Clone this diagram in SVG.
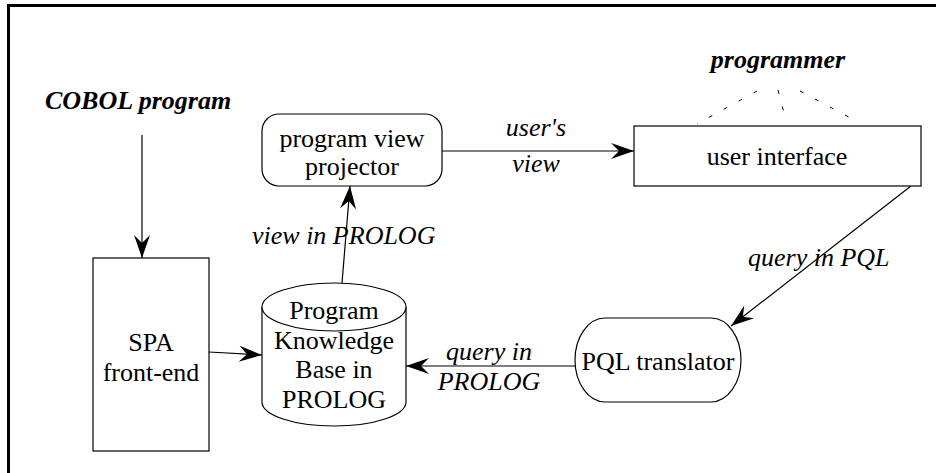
<svg xmlns="http://www.w3.org/2000/svg" width="936" height="473" viewBox="0 0 936 473">
<defs>
<style>
.t{font-family:"Liberation Serif",Times,serif;font-size:26px;fill:#000}
.i{font-style:italic}
.b{font-weight:bold;font-style:italic}
.m{text-anchor:middle}
.s{fill:#fff;stroke:#000;stroke-width:1.2}
.c{fill:none;stroke:#000;stroke-width:1.2}
.d{fill:none;stroke:#000;stroke-width:1;stroke-dasharray:4 13}
</style>
<marker id="ah" markerUnits="userSpaceOnUse" markerWidth="30" markerHeight="20" viewBox="-24 -10 26 20" refX="0" refY="0" orient="auto">
<path d="M0,0 L-23,-8 L-15,0 L-23,8 Z" fill="#000"/>
</marker>
</defs>
<rect width="936" height="473" fill="#fff"/>
<path d="M8.5,473 V5.5 H936" fill="none" stroke="#000" stroke-width="3"/>

<g id="connectors">
<line class="c" x1="142" y1="135" x2="142" y2="258" marker-end="url(#ah)"/>
<line class="c" x1="209" y1="352" x2="262" y2="355" marker-end="url(#ah)"/>
<line class="c" x1="342" y1="283" x2="350" y2="186" marker-end="url(#ah)"/>
<line class="c" x1="442" y1="151" x2="634" y2="151" marker-end="url(#ah)"/>
<line class="c" x1="911" y1="186" x2="731" y2="326" marker-end="url(#ah)"/>
<line class="c" x1="575" y1="366" x2="406" y2="366" marker-end="url(#ah)"/>
<line class="d" x1="757" y1="91" x2="697" y2="124"/>
<line class="d" x1="778" y1="90" x2="785" y2="117"/>
<line class="d" x1="800" y1="91" x2="860" y2="123"/>
<text class="t i" x="252" y="244">view in PROLOG</text>
<text class="t i m" x="536" y="136">user's</text>
<text class="t i m" x="536" y="172">view</text>
<text class="t i" x="748" y="266">query in PQL</text>
<text class="t i m" x="489" y="360">query in</text>
<text class="t i m" x="489" y="390">PROLOG</text>
</g>

<g id="cobol">
<text class="t b" x="45" y="109">COBOL program</text>
</g>
<g id="programmer">
<text class="t b m" x="778" y="68">programmer</text>
</g>
<g id="spa">
<rect class="s" x="93" y="258" width="116" height="193"/>
<text class="t m" x="151" y="351">SPA</text>
<text class="t m" x="151" y="381">front-end</text>
</g>
<g id="kb">
<path class="s" d="M262,307 V402 A72,24 0 0 0 406,402 V307"/>
<ellipse class="s" cx="334" cy="307" rx="72" ry="24"/>
<text class="t m" x="334" y="319">Program</text>
<text class="t m" x="334" y="349">Knowledge</text>
<text class="t m" x="334" y="378">Base in</text>
<text class="t m" x="334" y="408">PROLOG</text>
</g>
<g id="projector">
<rect class="s" x="262" y="114" width="180" height="72" rx="17" ry="17"/>
<text class="t m" x="352" y="147">program view</text>
<text class="t m" x="352" y="175">projector</text>
</g>
<g id="ui">
<rect class="s" x="634" y="126" width="287" height="60"/>
<text class="t m" x="777" y="165">user interface</text>
</g>
<g id="pql">
<rect class="s" x="575" y="318" width="166" height="84" rx="30" ry="42"/>
<text class="t m" x="658" y="370">PQL translator</text>
</g>
</svg>
